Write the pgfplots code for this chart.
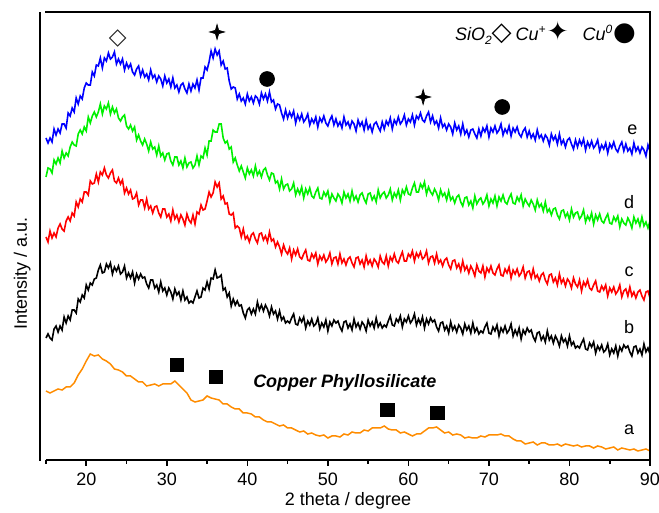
\documentclass[border=0pt]{standalone}
\usepackage{fontspec}
\setmainfont{Liberation Sans}
\newfontfamily\symfont{DejaVu Sans}
\usepackage{pgfplots}
\pgfplotsset{compat=1.18}
\usepackage{pgfplotstable}

\definecolor{cOrange}{RGB}{255,140,0}
\definecolor{cGreen}{RGB}{0,240,0}
\definecolor{cBlue}{RGB}{0,0,255}
\definecolor{cRed}{RGB}{255,0,0}

\pgfdeclareplotmark{star4}{%
  \pgfpathmoveto{\pgfqpoint{0pt}{\pgfplotmarksize}}%
  \pgfpathlineto{\pgfqpoint{0.22\pgfplotmarksize}{0.22\pgfplotmarksize}}%
  \pgfpathlineto{\pgfqpoint{\pgfplotmarksize}{0pt}}%
  \pgfpathlineto{\pgfqpoint{0.22\pgfplotmarksize}{-0.22\pgfplotmarksize}}%
  \pgfpathlineto{\pgfqpoint{0pt}{-\pgfplotmarksize}}%
  \pgfpathlineto{\pgfqpoint{-0.22\pgfplotmarksize}{-0.22\pgfplotmarksize}}%
  \pgfpathlineto{\pgfqpoint{-\pgfplotmarksize}{0pt}}%
  \pgfpathlineto{\pgfqpoint{-0.22\pgfplotmarksize}{0.22\pgfplotmarksize}}%
  \pgfpathclose
  \pgfusepathqfillstroke}

\pgfplotstableread{
x b c d e
15 122 223 283 322
15.25 126 218 292 317
15.5 122 229 291 322
15.75 120 222 287 318
16 131 227 300 331
16.25 134 223 296 325
16.5 128 232 302 331
16.75 134 236 297 327
17 130 231 309 336
17.25 143 229 302 336
17.5 137 239 307 332
17.75 144 243 304 347
18 140 239 313 344
18.25 150 247 318 352
18.5 150 244 315 348
18.75 147 258 314 362
19 161 253 326 356
19.25 158 261 330 364
19.5 165 258 326 361
19.75 162 268 333 372
20 175 268 329 377
20.25 170 265 343 375
20.5 177 279 337 375
20.75 175 276 344 388
21 181 277 348 384
21.25 182 286 343 395
21.5 190 278 348 394
21.75 195 288 356 402
22 187 285 346 392
22.25 188 292 354 402
22.5 196 285 351 399
22.75 192 282 357 407
23 197 287 346 401
23.25 186 290 353 403
23.5 193 279 347 408
23.75 189 277 351 396
24 194 282 342 401
24.25 186 276 339 396
24.5 188 280 343 401
24.75 194 267 345 390
25 182 272 334 397
25.25 187 266 331 392
25.5 182 270 335 396
25.75 188 261 329 388
26 177 262 333 385
26.25 186 267 320 391
26.5 181 255 325 394
26.75 186 260 319 384
27 182 260 315 390
27.25 183 252 321 383
27.5 176 261 316 386
27.75 172 251 309 380
28 180 254 318 390
28.25 180 247 311 382
28.5 172 253 313 385
28.75 175 254 305 378
29 168 247 314 384
29.25 178 243 304 381
29.5 169 251 307 374
29.75 172 251 300 384
30 165 243 306 377
30.25 172 246 307 381
30.5 168 239 299 373
30.75 161 250 295 382
31 171 241 303 372
31.25 165 245 303 375
31.5 168 238 295 368
31.75 160 245 299 375
32 169 241 292 377
32.25 160 235 302 371
32.5 163 246 293 367
32.75 157 240 297 376
33 159 237 298 369
33.25 157 245 292 376
33.5 163 236 295 372
33.75 169 248 304 380
34 162 246 295 370
34.25 163 255 304 382
34.5 172 250 302 382
34.75 170 251 312 393
35 178 259 305 390
35.25 171 268 319 398
35.5 182 263 319 409
35.75 181 267 330 402
36 190 278 328 411
36.25 182 273 328 405
36.5 183 277 336 409
36.75 185 261 336 395
37 170 264 322 399
37.25 172 256 317 391
37.5 163 257 319 392
37.75 167 246 311 379
38 154 245 313 371
38.25 161 247 298 373
38.5 155 232 302 372
38.75 159 234 295 361
39 154 232 289 366
39.25 155 223 294 359
39.5 147 231 288 362
39.75 142 221 282 356
40 150 224 292 366
40.25 152 218 286 359
40.5 146 225 290 363
40.75 151 227 284 357
41 146 221 294 364
41.25 158 217 285 362
41.5 150 226 289 356
41.75 155 227 283 367
42 149 220 290 361
42.25 155 224 292 366
42.5 151 218 285 359
42.75 144 228 280 368
43 153 219 287 358
43.25 146 221 286 360
43.5 149 213 277 351
43.75 141 218 279 356
44 149 213 271 355
44.25 140 206 281 347
44.5 143 215 271 341
44.75 137 209 275 350
45 139 206 276 342
45.25 137 212 269 348
45.5 142 201 271 343
45.75 146 210 277 349
46 136 205 265 337
46.25 135 211 271 345
46.5 142 203 266 340
46.75 138 201 273 346
47 143 206 262 338
47.25 132 210 271 341
47.5 139 200 266 346
47.75 135 199 272 335
48 141 206 264 341
48.25 134 202 262 337
48.5 136 207 268 343
48.75 142 196 272 333
49 131 204 262 342
49.25 137 200 261 338
49.5 133 205 268 344
49.75 140 198 264 337
50 129 201 269 334
50.25 138 207 258 340
50.5 134 196 266 344
50.75 140 202 262 335
51 137 203 259 341
51.25 139 196 266 334
51.5 133 206 263 338
51.75 129 197 257 332
52 138 201 268 343
52.25 139 195 262 335
52.5 132 201 266 338
52.75 136 203 259 332
53 130 197 269 339
53.25 141 193 260 336
53.5 133 202 264 329
53.75 137 203 258 340
54 131 196 265 334
54.25 138 200 267 338
54.5 135 193 261 330
54.75 129 204 257 340
55 140 196 266 331
55.25 134 200 267 335
55.5 138 194 260 328
55.75 132 201 264 336
56 142 198 258 338
56.25 133 193 270 333
56.5 137 204 262 329
56.75 132 198 266 338
57 135 196 268 331
57.25 133 204 262 339
57.5 139 194 265 335
57.75 144 203 271 342
58 135 199 260 331
58.25 134 206 267 340
58.5 141 199 263 336
58.75 138 197 270 343
59 144 203 260 336
59.25 133 208 270 339
59.5 141 199 266 345
59.75 138 199 273 335
60 144 206 266 341
60.25 137 203 265 338
60.5 140 209 272 345
60.75 146 199 277 335
61 135 207 268 344
61.25 141 203 268 341
61.5 136 208 276 347
61.75 143 201 272 340
62 132 203 278 338
62.25 141 209 266 344
62.5 136 197 273 348
62.75 142 203 268 338
63 138 204 265 344
63.25 140 197 271 336
63.5 133 206 267 339
63.75 129 197 260 332
64 137 200 270 342
64.25 138 194 264 333
64.5 130 200 267 336
64.75 134 202 260 330
65 127 195 269 336
65.25 138 191 260 333
65.5 130 199 263 326
65.75 134 200 257 337
66 128 192 263 330
66.25 135 196 265 334
66.5 132 189 258 326
66.75 126 199 254 336
67 136 190 262 326
67.25 130 194 263 330
67.5 134 187 255 323
67.75 127 194 259 330
68 137 190 252 331
68.25 128 184 264 326
68.5 132 195 256 322
68.75 126 189 260 331
69 129 187 262 324
69.25 127 194 256 332
69.5 133 183 259 328
69.75 137 192 265 334
70 127 188 254 323
70.25 126 194 261 332
70.5 133 187 257 328
70.75 129 185 264 334
71 135 191 254 327
71.25 124 195 263 330
71.5 132 185 259 336
71.75 128 184 265 325
72 134 191 258 331
72.25 127 187 256 327
72.5 130 193 262 334
72.75 136 182 266 324
73 124 190 257 332
73.25 130 186 256 328
73.5 125 191 263 333
73.75 132 184 259 326
74 121 187 265 323
74.25 130 193 254 329
74.5 126 182 261 332
74.75 132 188 257 323
75 128 189 254 329
75.25 130 182 260 322
75.5 123 191 256 326
75.75 119 182 250 320
76 127 185 260 330
76.25 128 179 253 322
76.5 120 185 256 325
76.75 124 187 249 319
77 118 180 258 325
77.25 129 176 248 322
77.5 120 185 251 315
77.75 124 186 245 326
78 117 178 251 320
78.25 124 182 252 324
78.5 120 175 245 316
78.75 114 186 241 326
79 124 177 249 316
79.25 118 181 250 320
79.5 121 174 243 313
79.75 114 181 247 320
80 124 178 240 322
80.25 115 172 251 316
80.5 118 182 243 311
80.75 112 176 247 320
81 114 173 248 313
81.25 112 180 241 320
81.5 117 169 244 315
81.75 121 178 250 321
82 111 174 238 310
82.25 110 180 244 318
82.5 117 172 240 313
82.75 113 170 247 319
83 118 175 236 312
83.25 107 179 245 315
83.5 114 169 240 320
83.75 110 168 246 309
84 115 174 239 315
84.25 108 170 237 311
84.5 110 175 242 317
84.75 116 164 246 307
85 105 172 237 316
85.25 111 168 236 312
85.5 107 173 243 318
85.75 114 166 239 311
86 104 169 244 308
86.25 113 175 233 314
86.5 109 163 241 318
86.75 115 169 237 309
87 112 171 235 316
87.25 114 164 242 309
87.5 108 173 238 312
87.75 104 164 232 306
88 113 168 243 317
88.25 114 162 237 309
88.5 107 168 241 313
88.75 111 170 234 307
89 105 164 243 313
89.25 116 160 234 310
89.5 108 168 238 304
89.75 112 169 232 315
90 106 162 239 309
}\noisy

\pgfplotstableread{
x a
15 69
15.5 67
16 69
16.5 71
17 70
17.5 73
18 73
18.5 77
19 85
19.5 91
20 99
20.5 106
21 104
21.5 105
22 101
22.5 99
23 96
23.5 91
24 90
24.5 88
25 84
25.5 84
26 81
26.5 78
27 78
27.5 74
28 75
28.5 76
29 74
29.5 76
30 76
30.5 76
31 79
31.5 75
32 71
32.5 67
33 60
33.5 58
34 59
34.5 60
35 64
35.5 62
36 61
36.5 60
37 56
37.5 56
38 53
38.5 51
39 51
39.5 47
40 47
40.5 46
41 43
41.5 43
42 40
42.5 38
43 38
43.5 36
44 34
44.5 35
45 32
45.5 32
46 30
46.5 28
47 29
47.5 26
48 27
48.5 25
49 24
49.5 25
50 22
50.5 24
51 24
51.5 23
52 26
52.5 25
53 28
53.5 27
54 27
54.5 30
55 29
55.5 32
56 32
56.5 32
57 34
57.5 31
58 30
58.5 30
59 27
59.5 28
60 26
60.5 24
61 26
61.5 26
62 29
62.5 32
63 32
63.5 33
64 30
64.5 27
65 28
65.5 25
66 26
66.5 25
67 22
67.5 23
68 22
68.5 22
69 24
69.5 23
70 25
70.5 25
71 25
71.5 26
72 24
72.5 24
73 21
73.5 19
74 19
74.5 16
75 17
75.5 18
76 15
76.5 17
77 17
77.5 15
78 15
78.5 16
79 14
79.5 16
80 15
80.5 14
81 15
81.5 13
82 14
82.5 14
83 12
83.5 14
84 13
84.5 11
85 12
85.5 13
86 10
86.5 12
87 11
87.5 10
88 11
88.5 9
89 10
89.5 11
90 9
}\orange

\begin{document}
\begin{tikzpicture}
\begin{axis}[
  scale only axis, width=302pt, height=224pt,
  xmin=15, xmax=90, ymin=0, ymax=448,
  clip=false,
  axis line style={draw=none},
  xtick={20,30,...,90}, minor xtick={15,25,...,85},
  xtick pos=left, tick align=outside,
  major tick length=3pt, minor tick length=2pt,
  tick style={black, line width=0.8pt},
  ytick=\empty,
  /pgf/number format/assume math mode=true,
  ticklabel style={font=\fontsize{9}{10}\selectfont},
  xlabel={2 theta / degree},
  ylabel={Intensity / a.u.},
  label style={font=\fontsize{9}{10}\selectfont},
  xlabel style={at={(rel axis cs:0.5,0)}, anchor=base, yshift=-23pt},
  ylabel style={at={(rel axis cs:-0.0315,0.417)}, anchor=base},
]
\addplot[color=cOrange, line width=0.75pt] table[x=x, y=a] {\orange};
\addplot[color=black, line width=0.8pt] table[x=x, y=b] {\noisy};
\addplot[color=cRed, line width=0.8pt] table[x=x, y=c] {\noisy};
\addplot[color=cGreen, line width=0.8pt] table[x=x, y=d] {\noisy};
\addplot[color=cBlue, line width=0.8pt] table[x=x, y=e] {\noisy};

% phase markers
\addplot[only marks, mark=diamond, mark size=4pt, mark options={xscale=1.33, draw=black!80, fill=white, line width=0.5pt}] coordinates {(23.9,422)};
\addplot[only marks, mark=star4, mark size=3.8pt, mark options={fill=black, draw=black, line width=0.3pt}] coordinates {(36.24,428) (61.83,363)};
\addplot[only marks, mark=*, mark size=3.7pt, mark options={fill=black, draw=black}] coordinates {(42.45,381) (71.65,353)};
\addplot[only marks, mark=square*, mark size=3.4pt, mark options={fill=black, draw=black}] coordinates {(31.27,95) (36.12,83) (57.36,50) (63.57,47)};

% curve labels
\node[font=\fontsize{9}{10}\selectfont] at (axis cs:87.8,330) {e};
\node[font=\fontsize{9}{10}\selectfont] at (axis cs:87.4,258) {d};
\node[font=\fontsize{9}{10}\selectfont] at (axis cs:87.4,188) {c};
\node[font=\fontsize{9}{10}\selectfont] at (axis cs:87.4,133) {b};
\node[font=\fontsize{9}{10}\selectfont] at (axis cs:87.4,30) {a};
\node[font=\fontsize{9}{10}\selectfont\bfseries\itshape] at (axis cs:52.1,77) {Copper Phyllosilicate};

% legend
\node[anchor=east, inner sep=0pt, font=\fontsize{9}{10}\selectfont\itshape] at (axis cs:88.3,427)
  {SiO\raisebox{-2pt}{\fontsize{6}{6}\selectfont 2}{\symfont\upshape\fontsize{13}{13}\selectfont ◇}\hspace{2pt}Cu\textsuperscript{+}{\symfont\upshape\fontsize{13}{13}\selectfont ✦}\hspace{7pt}Cu\textsuperscript{0}{\symfont\upshape\fontsize{13}{13}\selectfont ●}};

% frame
\draw[black, line width=0.8pt] (rel axis cs:0,0) -- (rel axis cs:1,0) -- (rel axis cs:1,1) -- ([xshift=-0.5pt]rel axis cs:0,1);
\draw[black, line width=0.8pt] ([xshift=-3pt,yshift=-0.5pt]rel axis cs:0,0) -- ([xshift=-3pt]rel axis cs:0,1);
\coordinate (ll) at (rel axis cs:0,0);
\coordinate (ur) at (rel axis cs:1,1);
\end{axis}
\pgfresetboundingbox
\useasboundingbox ([xshift=-23pt,yshift=-26.5pt]ll) rectangle ([xshift=4.5pt,yshift=6pt]ur);
\end{tikzpicture}
\end{document}
